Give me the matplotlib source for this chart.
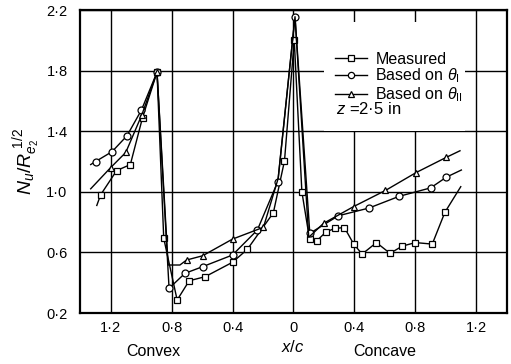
import matplotlib
matplotlib.use("Agg")
import matplotlib.pyplot as plt
from matplotlib.lines import Line2D
from matplotlib.patches import Rectangle

plt.rcParams['font.family'] = ['Liberation Sans', 'DejaVu Sans']
plt.rcParams['mathtext.fontset'] = 'custom'
plt.rcParams['mathtext.it'] = 'Liberation Sans:italic'
plt.rcParams['mathtext.rm'] = 'Liberation Sans'

# x/c along the blade: convex side negative, concave side positive
meas_x = [-1.29, -1.265, -1.16, -1.07, -0.99, -0.895, -0.851, -0.763, -0.684, -0.579,
          -0.40, -0.303, -0.132, -0.059, 0.005, 0.055, 0.105, 0.153, 0.215, 0.274,
          0.334, 0.395, 0.45, 0.544, 0.633, 0.714, 0.80, 0.91, 0.993, 1.097]
meas_y = [0.91, 0.98, 1.14, 1.18, 1.49, 1.79, 0.693, 0.286, 0.413, 0.44,
          0.535, 0.62, 0.862, 1.205, 2.0, 1.0, 0.69, 0.677, 0.737, 0.759,
          0.764, 0.655, 0.589, 0.665, 0.594, 0.642, 0.665, 0.655, 0.865, 1.034]
meas_mark = [False] + [True] * 28 + [False]

th1_x = [-1.33, -1.298, -1.19, -1.092, -0.997, -0.895, -0.816, -0.712, -0.596,
         -0.40, -0.237, -0.103, 0.01, 0.107, 0.294, 0.495, 0.692, 0.899, 1.003, 1.101]
th1_y = [1.18, 1.20, 1.265, 1.37, 1.54, 1.79, 0.363, 0.462, 0.506,
         0.583, 0.748, 1.067, 2.156, 0.726, 0.842, 0.893, 0.97, 1.026, 1.097, 1.144]
th1_mark = [False] + [True] * 18 + [False]

th2_x = [-1.33, -1.20, -1.10, -0.995, -0.895, -0.822, -0.745, -0.701, -0.596,
         -0.40, -0.197, -0.10, 0.01, 0.10, 0.197, 0.395, 0.603, 0.804, 1.003, 1.092]
th2_y = [1.02, 1.159, 1.26, 1.507, 1.79, 0.517, 0.517, 0.55, 0.578,
         0.688, 0.766, 1.09, 2.156, 0.70, 0.792, 0.903, 1.009, 1.127, 1.228, 1.271]
th2_mark = [False, True, True, True, True, False, False, True, True,
            True, True, False, False, False, True, True, True, True, True, False]

x_ticks = [-1.2, -0.8, -0.4, 0.0, 0.4, 0.8, 1.2]
x_ticklabels = ['1·2', '0·8', '0·4', '0', '0·4', '0·8', '1·2']
y_ticks = [0.2, 0.6, 1.0, 1.4, 1.8, 2.2]
y_ticklabels = ['0·2', '0·6', '1·0', '1·4', '1·8', '2·2']

fig = plt.figure(figsize=(5.11, 3.64), dpi=100)
ax = fig.add_axes([0.1566, 0.140, 0.8355, 0.8325])
ax.set_xlim(-1.4, 1.4)
ax.set_ylim(0.2, 2.2)

ax.set_xticks(x_ticks)
ax.set_xticklabels(x_ticklabels)
ax.set_yticks(y_ticks)
ax.set_yticklabels(y_ticklabels)
ax.tick_params(length=0, labelsize=10.5, colors='black')
ax.tick_params(axis='x', pad=6)
ax.tick_params(axis='y', pad=9)
ax.grid(True, color='black', linewidth=1.0)
ax.set_axisbelow(True)
for s in ax.spines.values():
    s.set_linewidth(1.6)

# white panel behind the key
ax.add_patch(Rectangle((0.572, 0.60), 0.33, 0.36, transform=ax.transAxes,
                       facecolor='white', edgecolor='none', zorder=1.5))

mk = dict(color='black', linewidth=1.0, markerfacecolor='white',
          markeredgecolor='black', markeredgewidth=0.9, zorder=3)
ax.plot(meas_x, meas_y, marker='s', markersize=5, markevery=meas_mark, **mk)
ax.plot(th1_x, th1_y, marker='o', markersize=5, markevery=th1_mark, **mk)
ax.plot(th2_x, th2_y, marker='^', markersize=5, markevery=th2_mark, **mk)

handles = [
    Line2D([], [], marker='s', markersize=4.5, **mk),
    Line2D([], [], marker='o', markersize=4.5, **mk),
    Line2D([], [], marker='^', markersize=4.5, **mk),
]
labels = ['Measured', r'Based on $\theta_{\rm I}$', r'Based on $\theta_{\rm II}$']
leg = ax.legend(handles, labels, loc='upper left', bbox_to_anchor=(0.598, 0.863),
                frameon=False, fontsize=11.5, handlelength=2.0, handletextpad=0.5,
                labelspacing=0.0, borderpad=0.0, borderaxespad=0.0)
leg.set_zorder(4)
ax.text(0.600, 0.672, r'$z$ =2·5 in', transform=ax.transAxes, fontsize=12,
        ha='left', va='center', zorder=4)

ax.set_ylabel(r'$N_u/R_{e_2}^{\ 1/2}$', fontsize=14, labelpad=3)
fig.text(293 / 511, 1 - 347 / 364, r'$x/c$', ha='center', va='center', fontsize=12)
fig.text(153 / 511, 1 - 352 / 364, 'Convex', ha='center', va='center', fontsize=11.5)
fig.text(385 / 511, 1 - 352 / 364, 'Concave', ha='center', va='center', fontsize=11.5)

fig.savefig('out.png', dpi=100, facecolor='white')
